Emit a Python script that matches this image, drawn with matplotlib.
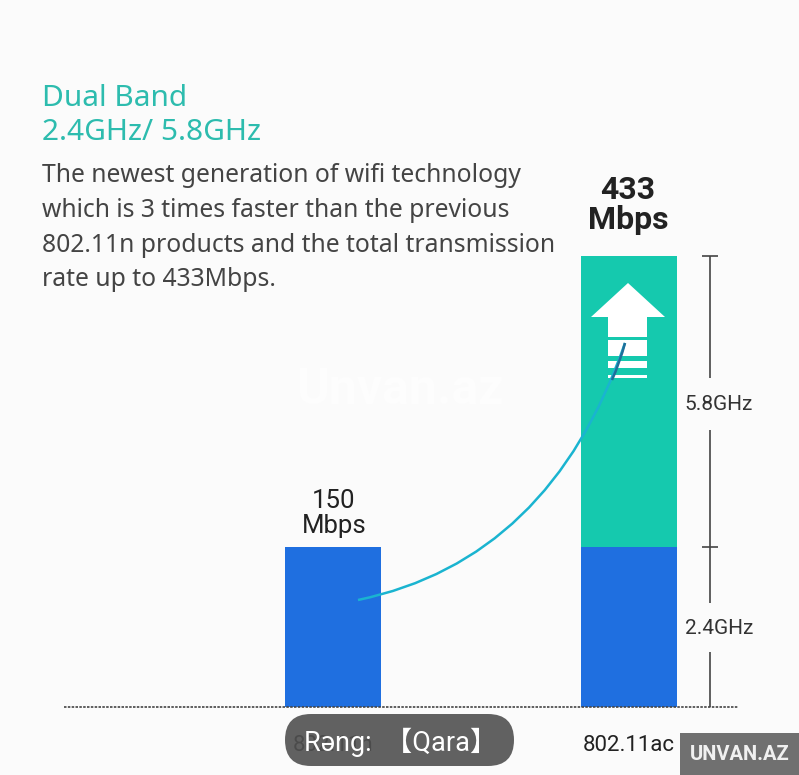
import matplotlib
matplotlib.use("Agg")
import matplotlib.pyplot as plt
from matplotlib.patches import Rectangle, Polygon, FancyBboxPatch, PathPatch
from matplotlib.path import Path

categories = ["802.11n", "802.11ac"]
band_24 = [154, 154]
band_58 = [0, 279]
value_labels = ["150\nMbps", "433\nMbps"]
heading = ["Dual Band", "2.4GHz/ 5.8GHz"]
body = ["The newest generation of wifi technology",
        "which is 3 times faster than the previous",
        "802.11n products and the total transmission",
        "rate up to 433Mbps."]

W, H = 799, 775
BG = "#fbfbfb"
BLUE = "#1f6fe0"
TEAL = "#15c9ae"
FONT = "Noto Sans"
fig = plt.figure(figsize=(W / 100, H / 100), dpi=100, facecolor=BG)

# Bars: real data axes, baseline at y=707 px
ax = fig.add_axes([0, (H - 707) / H, 1, 707 / H])
ax.set_facecolor("none")
step = 296
ax.set_xlim((0 - 333) / step, (W - 333) / step)
ax.set_ylim(0, 707 / 1.0416)
xs = list(range(len(categories)))
ax.bar(xs, band_24, width=96 / step, color=BLUE, zorder=2)
ax.bar(xs, band_58, bottom=band_24, width=96 / step, color=TEAL, zorder=2)
for s in ax.spines.values():
    s.set_visible(False)
ax.set_yticks([])
ax.set_xticks(xs, categories, fontfamily="Roboto", fontsize=16, color="#222222")
ax.tick_params(axis="x", length=0, pad=20)
ax.plot([(64 - 333) / step, (738 - 333) / step], [0, 0], color="#444444",
        lw=1.2, ls=(0, (1.5, 0.8)), zorder=3, clip_on=False)

# Overlay in pixel coordinates for the annotations
ov = fig.add_axes([0, 0, 1, 1], zorder=5)
ov.set_xlim(0, W)
ov.set_ylim(H, 0)
ov.axis("off")
ov.patch.set_visible(False)

ov.text(400, 390, "Unvan.az", fontsize=36, color="#fdfdfd", ha="center", va="center",
        fontfamily="Roboto", fontweight="bold")

for y, t in zip([98, 133], heading):
    ov.text(42, y, t, fontsize=21.5, color="#2dbcae", va="center", ha="left", fontfamily=FONT)
for y, t in zip([176, 210.5, 245, 280], body):
    ov.text(42, y, t, fontsize=17.75, color="#444444", va="center", ha="left", fontfamily=FONT)

# Value labels
for x, lab, fs, w, ys in zip([334, 628], value_labels, [18.5, 23], ["normal", "bold"],
                             [(501, 526), (190, 220)]):
    for y, part in zip(ys, lab.split("\n")):
        ov.text(x, y, part, fontsize=fs, fontweight=w, ha="center", va="center",
                color="#222222", fontfamily="Roboto")

# Bracket lines
c = "#444444"
for x0, y0, x1, y1 in [(710, 256, 710, 378), (702, 256, 718, 256), (710, 430, 710, 603),
                       (702, 547, 718, 547), (710, 652, 710, 707)]:
    ov.plot([x0, x1], [y0, y1], color=c, lw=1.2, solid_capstyle="butt")
ov.text(719, 404, "5.8GHz", fontsize=15, ha="center", va="center", color="#333333", fontfamily="Roboto")
ov.text(719, 628, "2.4GHz", fontsize=15, ha="center", va="center", color="#333333", fontfamily="Roboto")

# Arrow
ov.add_patch(Polygon([(628, 283), (665, 317), (647, 317), (647, 337), (608, 337), (608, 317), (591, 317)],
                     color="white", lw=0))
for y0, y1 in [(340, 356), (361, 368), (375, 378)]:
    ov.add_patch(Rectangle((608, y0), 39, y1 - y0, color="white", lw=0))

# Curve
ov.add_patch(PathPatch(Path([(358, 600), (550, 560), (625, 343)],
                            [Path.MOVETO, Path.CURVE3, Path.CURVE3]),
                       fc="none", ec="#1ab4d0", lw=1.8))
ov.add_patch(PathPatch(Path([(612, 380), (620, 362), (625, 343)],
                            [Path.MOVETO, Path.CURVE3, Path.CURVE3]),
                       fc="none", ec="#1f6f9a", lw=1.8))

# Overlays
ov.add_patch(FancyBboxPatch((285, 714), 229, 52, boxstyle="round,pad=0,rounding_size=26",
                            fc="#505050", ec="none", alpha=0.9, zorder=6))
ov.text(304, 742, "Rəng:  【Qara】", fontsize=19.5, color="white", ha="left", va="center", zorder=7,
        fontfamily=["Roboto", "Noto Sans CJK SC"])
ov.add_patch(Rectangle((680, 733), 119, 42, fc="#707070", ec="none", zorder=6))
ov.text(739.5, 755, "UNVAN.AZ", fontsize=14.5, color="#f0f0f0", ha="center", va="center", zorder=7,
        fontfamily="Roboto", fontweight="bold")

fig.savefig("out.png", dpi=100, facecolor=BG)
